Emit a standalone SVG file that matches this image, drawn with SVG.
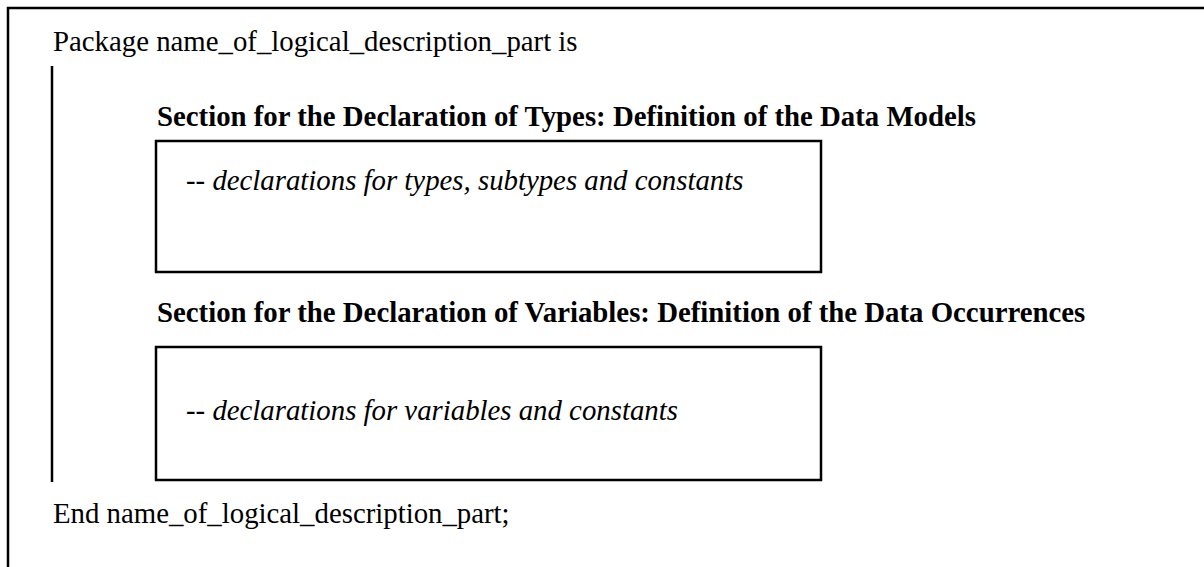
<svg xmlns="http://www.w3.org/2000/svg" width="1204" height="567" viewBox="0 0 1204 567">
<style>
.frame{fill:none;stroke:#000;stroke-width:2.5}
.box{fill:#fff;stroke:#000;stroke-width:2.5}
.t{font-family:"Liberation Serif","Times New Roman",serif;font-size:28.8px;fill:#000}
.b{font-weight:bold}
.i{font-style:italic}
</style>
<rect width="1204" height="567" fill="#fff"/>
<g id="frame">
<path class="frame" d="M8,580 V8 H1210"/>
</g>
<g id="connectors">
<line x1="52" y1="66" x2="52" y2="482" stroke="#000" stroke-width="2.5"/>
</g>
<g id="package-header">
<text class="t" x="53" y="51">Package name_of_logical_description_part is</text>
</g>
<g id="types-section">
<text class="t b" x="157" y="126">Section for the Declaration of Types: Definition of the Data Models</text>
<rect class="box" x="156" y="141" width="665" height="131"/>
<text class="t i" x="186" y="190">-- declarations for types, subtypes and constants</text>
</g>
<g id="variables-section">
<text class="t b" x="157" y="322">Section for the Declaration of Variables: Definition of the Data Occurrences</text>
<rect class="box" x="156" y="347" width="665" height="133"/>
<text class="t i" x="186" y="420">-- declarations for variables and constants</text>
</g>
<g id="package-end">
<text class="t" x="53" y="523">End name_of_logical_description_part;</text>
</g>
</svg>
